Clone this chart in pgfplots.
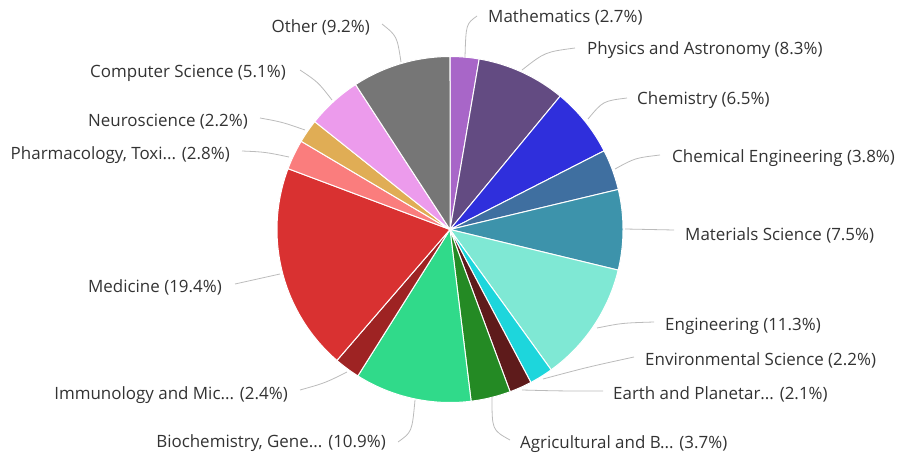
\documentclass[border=0pt]{standalone}
\usepackage{pgfplots}
\usepackage{pgfplotstable}
\usepackage{fontspec}
\setmainfont{Open Sans}
\pgfplotsset{compat=1.18}
\definecolor{slice0}{HTML}{A866C8}
\definecolor{slice1}{HTML}{634B82}
\definecolor{slice2}{HTML}{2F2FDC}
\definecolor{slice3}{HTML}{3F6FA0}
\definecolor{slice4}{HTML}{3D93AB}
\definecolor{slice5}{HTML}{7FE8D4}
\definecolor{slice6}{HTML}{1DD6DC}
\definecolor{slice7}{HTML}{5E1B1B}
\definecolor{slice8}{HTML}{248A24}
\definecolor{slice9}{HTML}{30DA8A}
\definecolor{slice10}{HTML}{9E2323}
\definecolor{slice11}{HTML}{D93131}
\definecolor{slice12}{HTML}{FA7D7D}
\definecolor{slice13}{HTML}{E0AD55}
\definecolor{slice14}{HTML}{EC9BEC}
\definecolor{slice15}{HTML}{767676}
\definecolor{txt}{HTML}{333333}
\definecolor{conn}{HTML}{BBBBBB}
\tikzset{lab/.style={font=\fontsize{17}{20}\selectfont, text=txt, inner sep=0pt}}
\pgfplotstableread[col sep=semicolon]{
label;pct
Mathematics;2.7
Physics and Astronomy;8.3
Chemistry;6.5
Chemical Engineering;3.8
Materials Science;7.5
Engineering;11.3
Environmental Science;2.2
Earth and Planetary Sciences;2.1
Agricultural and Biological Sciences;3.7
Biochemistry, Genetics and Molecular Biology;10.9
Immunology and Microbiology;2.4
Medicine;19.4
Pharmacology, Toxicology and Pharmaceutics;2.8
Neuroscience;2.2
Computer Science;5.1
Other;9.2
}\piedata
\newcommand\cx{450}
\newcommand\cy{229.5}
\newcommand\rr{173}
\newcommand\conn[6]{\draw[conn, line width=0.8bp] (axis cs:#1,#2) .. controls (axis cs:#3,#4) .. (axis cs:#5,#6);}
\begin{document}
\begin{tikzpicture}
\begin{axis}[
  hide axis, scale only axis, width=899bp, height=461bp,
  xmin=0, xmax=899, ymin=0, ymax=461, y dir=reverse, clip=false
]
\path (axis cs:0,0) rectangle (axis cs:899,461);
\pgfplotstablegetrowsof{\piedata}
\pgfmathtruncatemacro{\N}{\pgfplotsretval-1}
\gdef\cum{0}
\foreach \i in {0,...,\N} {
  \pgfplotstablegetelem{\i}{pct}\of{\piedata}
  \let\p\pgfplotsretval
  \pgfmathsetmacro{\a}{-90+3.6*\cum/1.001}
  \pgfmathsetmacro{\newcum}{\cum+\p}
  \xdef\cum{\newcum}
  \pgfmathsetmacro{\b}{-90+3.6*\cum/1.001}
  \edef\tmp{\noexpand\addplot[draw=white, line width=1bp, fill=slice\i, domain=\a:\b, samples=60, variable=\noexpand\t] ({\cx+\rr*cos(\noexpand\t)},{\cy+\rr*sin(\noexpand\t)}) -- (axis cs:\cx,\cy) -- cycle;}
  \tmp
}
% connectors
\conn{401}{62}{397}{36}{382}{24}
\conn{465}{57}{466}{24}{477}{16}
\conn{522}{70}{545}{52}{575}{48}
\conn{588}{119}{603}{101}{627}{98}
\conn{615}{169}{635}{158}{660}{155}
\conn{625}{229}{650}{229}{674}{230}
\conn{597}{328}{622}{323}{654}{322}
\conn{543}{379}{588}{367}{634}{357}
\conn{522}{390}{560}{391}{603}{391}
\conn{492}{397}{492}{430}{510}{440}
\conn{415}{400}{412}{432}{398}{442}
\conn{347}{372}{325}{383}{300}{390}
\conn{280}{274}{258}{279}{235}{284}
\conn{289}{157}{265}{152}{242}{151}
\conn{305}{130}{282}{122}{260}{118}
\conn{332}{100}{318}{82}{300}{70}
% labels
\node[lab, anchor=west] at (axis cs:488,17) {Mathematics (2.7\%)};
\node[lab, anchor=west] at (axis cs:587,50) {Physics and Astronomy (8.3\%)};
\node[lab, anchor=west] at (axis cs:637,100) {Chemistry (6.5\%)};
\node[lab, anchor=west] at (axis cs:672,158) {Chemical Engineering (3.8\%)};
\node[lab, anchor=west] at (axis cs:685,235) {Materials Science (7.5\%)};
\node[lab, anchor=west] at (axis cs:665,326) {Engineering (11.3\%)};
\node[lab, anchor=west] at (axis cs:645,360) {Environmental Science (2.2\%)};
\node[lab, anchor=west] at (axis cs:613,394) {Earth and Planetar... (2.1\%)};
\node[lab, anchor=west] at (axis cs:520,444) {Agricultural and B... (3.7\%)};
\node[lab, anchor=east] at (axis cs:370,27) {Other (9.2\%)};
\node[lab, anchor=east] at (axis cs:286,73) {Computer Science (5.1\%)};
\node[lab, anchor=east] at (axis cs:248,122) {Neuroscience (2.2\%)};
\node[lab, anchor=east] at (axis cs:230,155) {Pharmacology, Toxi... (2.8\%)};
\node[lab, anchor=east] at (axis cs:222,287) {Medicine (19.4\%)};
\node[lab, anchor=east] at (axis cs:288,395) {Immunology and Mic... (2.4\%)};
\node[lab, anchor=east] at (axis cs:386,443) {Biochemistry, Gene... (10.9\%)};
\end{axis}
\end{tikzpicture}
\end{document}
